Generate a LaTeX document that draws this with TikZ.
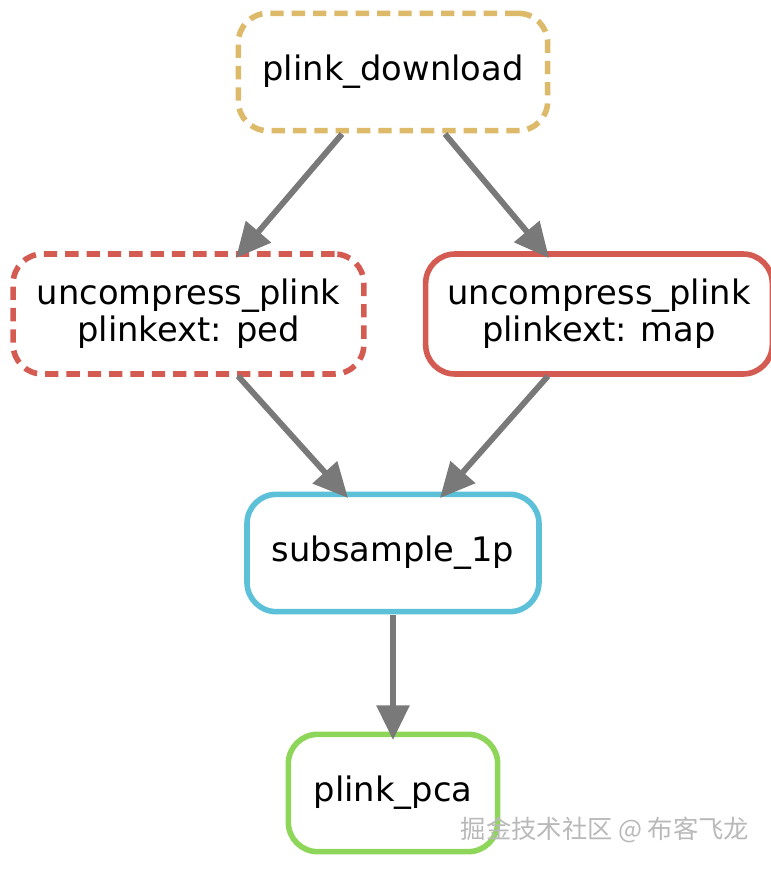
\documentclass[tikz,border=0pt]{standalone}
\usepackage{fontspec}
\setmainfont{DejaVu Sans}
\newfontfamily\cjk{Noto Sans CJK SC}
\usetikzlibrary{arrows.meta}
\definecolor{ctan}{HTML}{DDB96A}
\definecolor{cred}{HTML}{D45B52}
\definecolor{cblue}{HTML}{5BC0D8}
\definecolor{cgreen}{HTML}{8ED65A}
\begin{document}
\begin{tikzpicture}[x=0.75pt,y=-0.75pt,
  box/.style={draw,line width=4.2pt,rounded corners=22pt,align=center,font=\fontsize{25.3}{28}\selectfont,inner sep=0pt},
  dsh/.style={dash pattern=on 10pt off 6pt},
  arr/.style={draw=gray!95!black,line width=4.4pt,-{Triangle[length=26pt,width=24pt]}}]
\useasboundingbox (0,0) rectangle (771,869);
\node[box,dsh,draw=ctan,minimum width=232pt,minimum height=88pt] (dl) at (393,72) {plink\_download};
\node[box,dsh,draw=cred,minimum width=263pt,minimum height=90pt] (ped) at (188.5,314) {uncompress\_plink\\plinkext: ped};
\node[box,draw=cred,minimum width=260pt,minimum height=90pt] (map) at (599,314) {uncompress\_plink\\plinkext: map};
\node[box,draw=cblue,minimum width=219pt,minimum height=88pt] (sub) at (393,553) {subsample\_1p};
\node[box,draw=cgreen,minimum width=157pt,minimum height=88pt] (pca) at (393,793) {plink\_pca};
\coordinate (a1) at (342,134); \coordinate (a2) at (236,258);
\coordinate (b1) at (445,134); \coordinate (b2) at (549,258);
\coordinate (c1) at (238,376); \coordinate (c2) at (348,498);
\coordinate (d1) at (548,376); \coordinate (d2) at (440,498);
\coordinate (e1) at (393,615); \coordinate (e2) at (393,740);
\draw[arr] (a1) -- (a2);
\draw[arr] (b1) -- (b2);
\draw[arr] (c1) -- (c2);
\draw[arr] (d1) -- (d2);
\draw[arr] (e1) -- (e2);
\node[font=\cjk\fontsize{19}{22}\selectfont,text=gray!55] (wm) at (605,830) {掘金技术社区 @ 布客飞龙};
\end{tikzpicture}
\end{document}
